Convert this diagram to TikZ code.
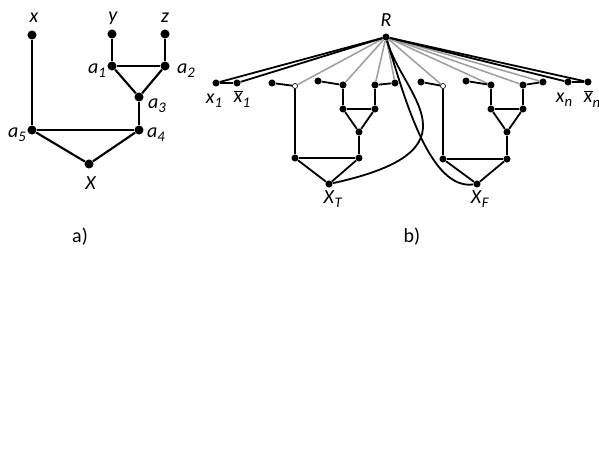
\documentclass[tikz,border=0pt]{standalone}
\usepackage{fontspec}
\setmainfont{Carlito}
\usepackage{tikz}
\usetikzlibrary{positioning}

\newcommand{\lab}[2]{\textit{#1}\raisebox{-0.45ex}{\fontsize{11}{12}\selectfont\textit{#2}}}
\newcommand{\barlab}[2]{$\overline{\hbox{\textit{#1}}}$\raisebox{-0.45ex}{\fontsize{11}{12}\selectfont\textit{#2}}}

\begin{document}
\begin{tikzpicture}[x=0.75pt, y=-0.75pt,
    bigdot/.style={circle, fill=black, inner sep=0pt, minimum size=6.8pt},
    dot/.style={circle, fill=black, inner sep=0pt, minimum size=5.3pt},
    hole/.style={circle, draw=black, fill=white, line width=0.5pt, inner sep=0pt, minimum size=3.8pt},
    edge/.style={line width=1.6pt},
    wire/.style={line width=1.35pt},
    ray/.style={line width=1.15pt, black!38},
    txt/.style={font=\fontsize{15}{17}\selectfont, inner sep=1pt}]
    \useasboundingbox (0,0) rectangle (599,450);

    % a) gadget
    \node[bigdot] (ax) at (32,35) {};
    \node[bigdot] (ay) at (112,34) {};
    \node[bigdot] (az) at (165,34) {};
    \node[bigdot] (a1) at (112,66) {};
    \node[bigdot] (a2) at (165,66) {};
    \node[bigdot] (a3) at (139,97) {};
    \node[bigdot] (a4) at (139,130) {};
    \node[bigdot] (a5) at (32,130) {};
    \node[bigdot] (aX) at (89,164) {};

    \draw[edge] (ax) -- (a5);
    \draw[edge] (ay) -- (a1);
    \draw[edge] (az) -- (a2);
    \draw[edge] (a1) -- (a2);
    \draw[edge] (a1) -- (a3);
    \draw[edge] (a2) -- (a3);
    \draw[edge] (a3) -- (a4);
    \draw[edge] (a5) -- (a4);
    \draw[edge] (a5) -- (aX);
    \draw[edge] (a4) -- (aX);

    \node[txt] (tx) at (34,18) {\textit{x}};
    \node[txt] (ty) at (113,18) {\textit{y}};
    \node[txt] (tz) at (165,18) {\textit{z}};
    \node[txt] (ta1) at (97,71) {\lab{a}{1}};
    \node[txt] (ta2) at (186,71) {\lab{a}{2}};
    \node[txt] (ta3) at (157,106) {\lab{a}{3}};
    \node[txt] (ta4) at (156,135) {\lab{a}{4}};
    \node[txt] (ta5) at (17,135) {\lab{a}{5}};
    \node[txt] (tX) at (91,183) {\textit{X}};
    \node[txt] (capa) at (80,237) {a)};

    % b) root and literals
    \node[dot] (R) at (386,37) {};
    \node[dot] (x1) at (216,83) {};
    \node[dot] (xb1) at (237,83) {};
    \node[dot] (xn) at (568,82) {};
    \node[dot] (xbn) at (588,82) {};

    % gadget for X_T
    \node[dot] (tp1) at (272,83) {};
    \node[hole] (tp2) at (295,86) {};
    \node[dot] (tq1) at (318,81) {};
    \node[dot] (tq2) at (343,85) {};
    \node[dot] (tr1) at (375,85) {};
    \node[dot] (tr2) at (395,83) {};
    \node[dot] (t1) at (343,109) {};
    \node[dot] (t2) at (375,109) {};
    \node[dot] (t3) at (359,132) {};
    \node[dot] (t4) at (359,158) {};
    \node[dot] (t5) at (295,158) {};
    \node[dot] (XT) at (329,184) {};

    % gadget for X_F
    \node[dot] (fp1) at (421,82) {};
    \node[hole] (fp2) at (443,86) {};
    \node[dot] (fq1) at (466,81) {};
    \node[dot] (fq2) at (491,85) {};
    \node[dot] (fr1) at (523,85) {};
    \node[dot] (fr2) at (543,82) {};
    \node[dot] (f1) at (491,109) {};
    \node[dot] (f2) at (523,109) {};
    \node[dot] (f3) at (507,132) {};
    \node[dot] (f4) at (507,159) {};
    \node[dot] (f5) at (443,159) {};
    \node[dot] (XF) at (477,184) {};

    % grey rays from R
    \foreach \n in {tp2,tq2,tr1,tr2,fp2,fq2,fr1,fr2}
        \draw[ray] (R) -- (\n);

    % black rays and curves
    \draw[wire] (R) -- (x1);
    \draw[wire] (R) -- (xb1);
    \draw[wire] (R) -- (xn);
    \draw[wire] (R) -- (xbn);
    \draw[wire] (x1) -- (xb1);
    \draw[wire] (xn) -- (xbn);
    \draw[wire] (R) .. controls (402,95) and (485,150) .. (XT);
    \draw[wire] (R) .. controls (405,100) and (430,190) .. (XF);

    \draw[wire] (tp1) -- (tp2);
    \draw[wire] (tp2) -- (t5);
    \draw[wire] (tq1) -- (tq2);
    \draw[wire] (tq2) -- (t1);
    \draw[wire] (tr1) -- (tr2);
    \draw[wire] (tr1) -- (t2);
    \draw[wire] (t1) -- (t2);
    \draw[wire] (t1) -- (t3);
    \draw[wire] (t2) -- (t3);
    \draw[wire] (t3) -- (t4);
    \draw[wire] (t5) -- (t4);
    \draw[wire] (t5) -- (XT);
    \draw[wire] (t4) -- (XT);

    \draw[wire] (fp1) -- (fp2);
    \draw[wire] (fp2) -- (f5);
    \draw[wire] (fq1) -- (fq2);
    \draw[wire] (fq2) -- (f1);
    \draw[wire] (fr1) -- (fr2);
    \draw[wire] (fr1) -- (f2);
    \draw[wire] (f1) -- (f2);
    \draw[wire] (f1) -- (f3);
    \draw[wire] (f2) -- (f3);
    \draw[wire] (f3) -- (f4);
    \draw[wire] (f5) -- (f4);
    \draw[wire] (f5) -- (XF);
    \draw[wire] (f4) -- (XF);

    % labels
    \node[txt] (tR) at (386,20) {\textit{R}};
    \node[txt] (tx1) at (214,101) {\lab{x}{1}};
    \node[txt] (txb1) at (242,99) {\barlab{x}{1}};
    \node[txt] (txn) at (564,100) {\lab{x}{n}};
    \node[txt] (txbn) at (592,99) {\barlab{x}{n}};
    \node[txt] (tXT) at (333,199) {\lab{X}{T}};
    \node[txt] (tXF) at (480,199) {\lab{X}{F}};
    \node[txt] (capb) at (412,237) {b)};
\end{tikzpicture}
\end{document}
